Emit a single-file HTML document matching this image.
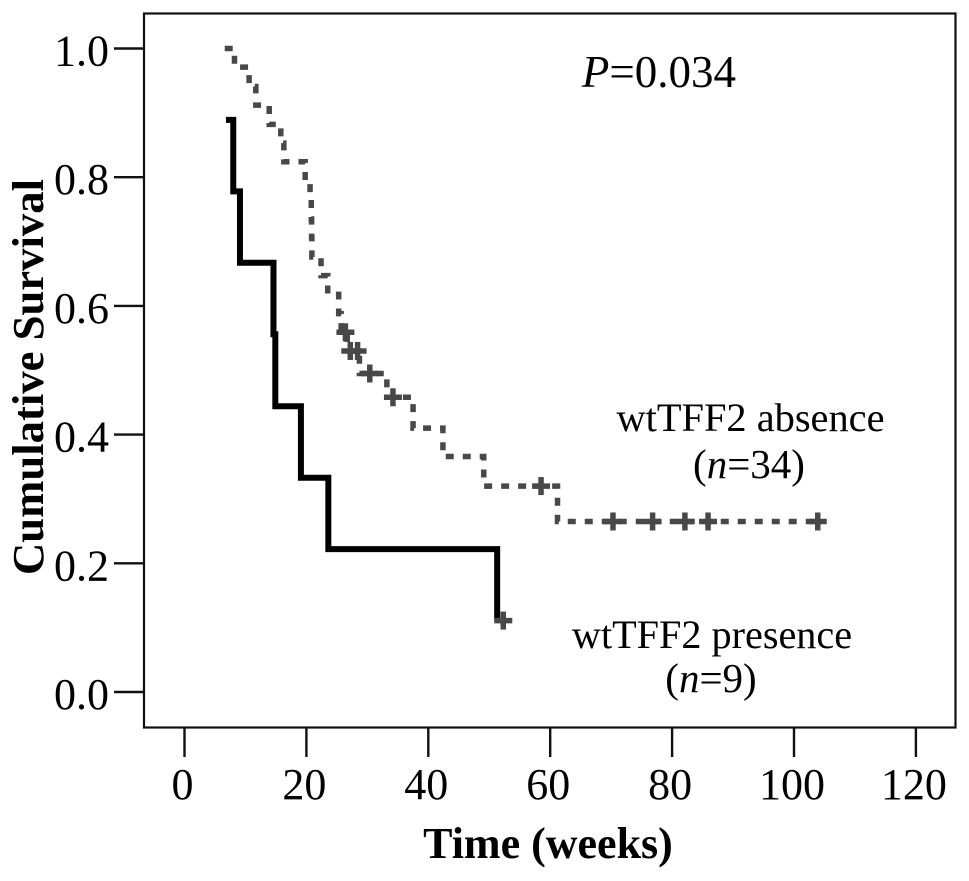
<!DOCTYPE html>
<html>
<head>
<meta charset="utf-8">
<title>Cumulative survival by wtTFF2 status</title>
<style>
html,body{margin:0;padding:0;background:#fff;}
svg{display:block;}
text{font-family:"Liberation Serif",serif;fill:#000;}
</style>
</head>
<body>
<svg id="chart" width="969" height="881" viewBox="0 0 969 881">
  <rect x="144" y="13.5" width="811.5" height="714" fill="#fff" stroke="#111" stroke-width="2.2"/>
  <g id="axes"></g>
  <g id="series"></g>
  <text x="43" y="377" font-size="44" font-weight="bold" text-anchor="middle" transform="rotate(-90 43 377)" textLength="396" lengthAdjust="spacingAndGlyphs">Cumulative Survival</text>
  <text x="548" y="858" font-size="44" font-weight="bold" text-anchor="middle">Time (weeks)</text>
  <text x="659" y="87" font-size="45" text-anchor="middle"><tspan font-style="italic">P</tspan>=0.034</text>
  <text x="750.5" y="431" font-size="40.4" text-anchor="middle">wtTFF2 absence</text>
  <text x="749" y="478" font-size="41" text-anchor="middle">(<tspan font-style="italic">n</tspan>=34)</text>
  <text x="712" y="648" font-size="40.2" text-anchor="middle">wtTFF2 presence</text>
  <text x="711" y="692" font-size="41" text-anchor="middle">(<tspan font-style="italic">n</tspan>=9)</text>
</svg>
<script>
var xTicks = [0, 20, 40, 60, 80, 100, 120];
var yTicks = ["0.0", "0.2", "0.4", "0.6", "0.8", "1.0"];

var absenceTimes = [6.6, 8.2, 10.6, 11.7, 13.9, 15.8, 16.3, 19.8, 20.6, 20.8, 20.85, 20.9, 22.4, 23.5, 25.3, 25.7, 26.7, 28.7, 33.2, 37.5, 42.4, 49.1, 61.2, 103.9];
var absenceSurvival = [1.0, 0.971, 0.941, 0.912, 0.882, 0.853, 0.824, 0.794, 0.765, 0.735, 0.706, 0.676, 0.647, 0.618, 0.588, 0.559, 0.53, 0.495, 0.458, 0.41, 0.366, 0.32, 0.265, 0.265];
var absenceCensorTimes = [26.4, 27.2, 28.4, 30.4, 34.2, 58.5, 70.3, 76.8, 82.1, 85.9, 103.9];
var absenceCensorSurvival = [0.559, 0.53, 0.53, 0.495, 0.458, 0.32, 0.265, 0.265, 0.265, 0.265, 0.265];

var presenceTimes = [6.8, 8.0, 9.1, 14.6, 14.9, 19.1, 23.6, 51.3];
var presenceSurvival = [0.889, 0.778, 0.667, 0.556, 0.444, 0.333, 0.222, 0.111];
var presenceCensorTimes = [52.3];
var presenceCensorSurvival = [0.111];

var NS = "http://www.w3.org/2000/svg";
function xScale(t) { return 184.5 + t * 6.095; }
function yScale(s) { return 692 - s * 643.5; }

var axesGroup = document.getElementById("axes");
var seriesGroup = document.getElementById("series");

function makeLine(x1, y1, x2, y2, color, width) {
  var l = document.createElementNS(NS, "line");
  l.setAttribute("x1", x1);
  l.setAttribute("y1", y1);
  l.setAttribute("x2", x2);
  l.setAttribute("y2", y2);
  l.setAttribute("stroke", color);
  l.setAttribute("stroke-width", width);
  return l;
}

xTicks.forEach(function (v) {
  var px = xScale(v);
  var tick = makeLine(px, 728, px, 757, "#111", 2.4);
  
  
  axesGroup.appendChild(tick);
  var label = document.createElementNS(NS, "text");
  label.setAttribute("x", px - 2);
  label.setAttribute("y", 799);
  label.setAttribute("font-size", "44");
  label.setAttribute("text-anchor", "middle");
  label.textContent = v;
  
  
  axesGroup.appendChild(label);
});

yTicks.forEach(function (v) {
  var py = yScale(parseFloat(v));
  var tick = makeLine(114, py, 144, py, "#111", 2.4);
  
  
  axesGroup.appendChild(tick);
  var label = document.createElementNS(NS, "text");
  label.setAttribute("x", 109);
  label.setAttribute("y", py + 17);
  label.setAttribute("font-size", "44");
  label.setAttribute("text-anchor", "end");
  label.textContent = v;
  
  
  axesGroup.appendChild(label);
});

function stepPath(times, survival) {
  var d = "M" + xScale(times[0]) + " " + yScale(survival[0]);
  for (var i = 1; i < times.length; i++) {
    d += " H" + xScale(times[i]);
    if (survival[i] !== survival[i - 1]) d += " V" + yScale(survival[i]);
  }
  return d;
}

var absenceLine = document.createElementNS(NS, "path");
absenceLine.setAttribute("d", stepPath(absenceTimes, absenceSurvival));
absenceLine.setAttribute("fill", "none");
absenceLine.setAttribute("stroke", "#484848");
absenceLine.setAttribute("stroke-width", "5.5");
absenceLine.setAttribute("stroke-dasharray", "8 9");


seriesGroup.appendChild(absenceLine);

var presenceLine = document.createElementNS(NS, "path");
presenceLine.setAttribute("d", stepPath(presenceTimes, presenceSurvival));
presenceLine.setAttribute("fill", "none");
presenceLine.setAttribute("stroke", "#000");
presenceLine.setAttribute("stroke-width", "6");


seriesGroup.appendChild(presenceLine);

function addCensor(t, s, color) {
  var g = document.createElementNS(NS, "g");
  
  
  var cx = xScale(t), cy = yScale(s);
  g.appendChild(makeLine(cx - 9, cy, cx + 9, cy, color, 5.5));
  g.appendChild(makeLine(cx, cy - 9, cx, cy + 9, color, 5.5));
  seriesGroup.appendChild(g);
}
absenceCensorTimes.forEach(function (t, i) { addCensor(t, absenceCensorSurvival[i], "#484848"); });
presenceCensorTimes.forEach(function (t, i) { addCensor(t, presenceCensorSurvival[i], "#484848"); });
</script>
</body>
</html>
